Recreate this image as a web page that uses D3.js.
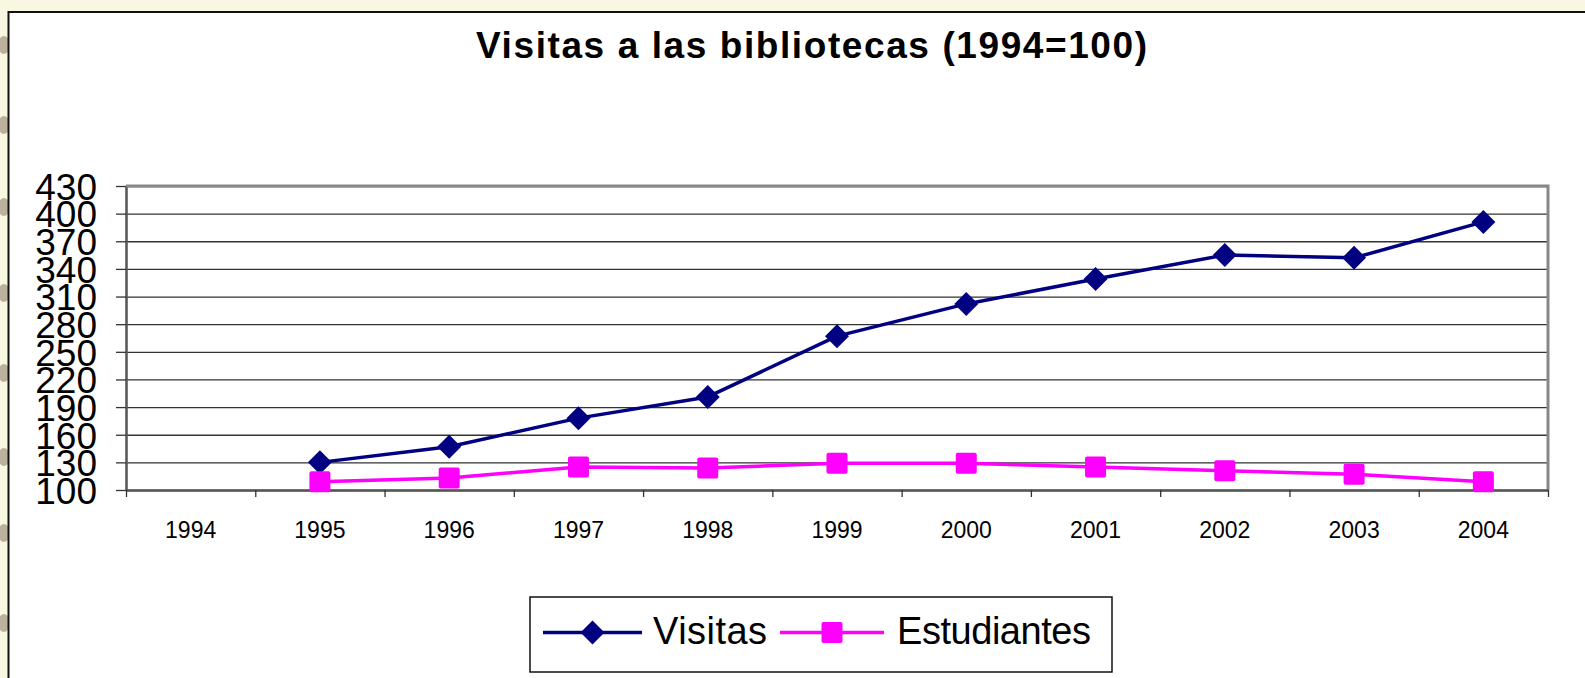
<!DOCTYPE html>
<html>
<head>
<meta charset="utf-8">
<script src="https://cdn.jsdelivr.net/npm/d3@7"></script>
<style>
  html, body { margin: 0; padding: 0; background: #f8f7e1; }
  svg { display: block; }
  text { font-family: "Liberation Sans", Arial, sans-serif; }
</style>
</head>
<body>
<svg id="chart" width="1585" height="678"></svg>
<script>
const years = ["1994","1995","1996","1997","1998","1999","2000","2001","2002","2003","2004"];
const visitas = [null, 130, 147, 178, 201, 267, 302, 329, 355, 352, 391];
const estudiantes = [null, 109, 113, 125, 124, 129, 129, 125, 121, 117, 109];
const yTicks = [100,130,160,190,220,250,280,310,340,370,400,430];
const seriesNames = ["Visitas", "Estudiantes"];
const seriesColors = ["#000080", "#ff00ff"];

const svg = d3.select("#chart");

// decorative edge texture
const blobY = [45,125,207,293,373,457,533,623];
svg.selectAll("ellipse.blob").data(blobY).enter().append("ellipse")
  .attr("cx", 4).attr("cy", d => d).attr("rx", 6).attr("ry", 9)
  .attr("fill", "#a89a84").attr("opacity", 0.75);

// white chart area
svg.append("rect").attr("x", 8.5).attr("y", 12).attr("width", 1600).attr("height", 700)
  .attr("fill", "#ffffff").attr("stroke", "#111").attr("stroke-width", 2);

const L = 126, R = 1548, T = 186, B = 490;
const y = d3.scaleLinear().domain([100, 430]).range([B, T]);
const xb = d3.scaleBand().domain(years).range([L, R]).paddingInner(0).paddingOuter(0);
const xc = d => xb(d) + xb.bandwidth() / 2;
const xi = d3.scaleLinear().domain([0, years.length]).range([L, R]);

// title
svg.append("text").attr("x", 811.5).attr("y", 58).attr("text-anchor", "middle")
  .attr("font-size", 37).attr("font-weight", "bold")
  .attr("textLength", 671).attr("lengthAdjust", "spacing")
  .text("Visitas a las bibliotecas (1994=100)");

// gridlines
const grid = svg.append("g").attr("transform", `translate(${L},0)`)
  .call(d3.axisLeft(y).tickValues(yTicks).tickSize(-(R - L)).tickFormat(""));
grid.select(".domain").remove();
grid.selectAll(".tick line").attr("stroke", "#333").attr("stroke-width", 1.3);

// y axis with labels
const yAx = svg.append("g").attr("transform", `translate(${L},0)`)
  .call(d3.axisLeft(y).tickValues(yTicks).tickSize(10).tickPadding(19).tickSizeOuter(0));
yAx.select(".domain").attr("stroke", "#555").attr("stroke-width", 2.5);
yAx.selectAll(".tick line").attr("stroke", "#333").attr("stroke-width", 1.3);
yAx.selectAll(".tick text").attr("font-size", 37).attr("fill", "#000")
  .attr("font-family", "'Liberation Sans', Arial, sans-serif").attr("dy", "0.36em");

// plot frame top/right
svg.append("path").attr("d", `M${L},${T}H${R}V${B}`).attr("fill", "none")
  .attr("stroke", "#888").attr("stroke-width", 3);

// x axis ticks at boundaries
const xTickAx = svg.append("g").attr("transform", `translate(0,${B})`)
  .call(d3.axisBottom(xi).tickValues(d3.range(0, years.length + 1)).tickSize(7).tickFormat("").tickSizeOuter(0));
xTickAx.select(".domain").attr("stroke", "#555").attr("stroke-width", 2.5);
xTickAx.selectAll(".tick line").attr("stroke", "#333").attr("stroke-width", 1.3);

// x labels
const xLab = svg.append("g").attr("transform", `translate(0,${B})`)
  .call(d3.axisBottom(xb).tickSize(0).tickPadding(0));
xLab.select(".domain").remove();
xLab.selectAll(".tick text").attr("font-size", 23).attr("fill", "#000")
  .attr("font-family", "'Liberation Sans', Arial, sans-serif")
  .attr("dy", null).attr("y", 48);

// series
const line = d3.line().defined(d => d.v != null).x(d => xc(d.year)).y(d => y(d.v));
const series = [visitas, estudiantes].map((vals, i) => ({
  name: seriesNames[i], color: seriesColors[i],
  pts: years.map((yr, j) => ({ year: yr, v: vals[j] }))
}));

const diamond = (cx, cy, r) => `M${cx},${cy - r}L${cx + r},${cy}L${cx},${cy + r}L${cx - r},${cy}Z`;

series.forEach((s, i) => {
  svg.append("path").datum(s.pts).attr("d", line).attr("fill", "none")
    .attr("stroke", s.color).attr("stroke-width", 3.5).attr("stroke-linejoin", "round");
  const pts = s.pts.filter(d => d.v != null);
  if (i === 0) {
    svg.selectAll(null).data(pts).enter().append("path")
      .attr("d", d => diamond(xc(d.year), y(d.v), 12)).attr("fill", s.color);
  } else {
    svg.selectAll(null).data(pts).enter().append("rect")
      .attr("x", d => xc(d.year) - 10.5).attr("y", d => y(d.v) - 10.5)
      .attr("width", 21).attr("height", 21).attr("rx", 2).attr("fill", s.color);
  }
});

// legend
svg.append("rect").attr("x", 530).attr("y", 597).attr("width", 582).attr("height", 75)
  .attr("fill", "#fff").attr("stroke", "#111").attr("stroke-width", 1.5);
const legItems = [
  { x1: 543, x2: 642, tx: 653, tw: 114 },
  { x1: 780, x2: 884, tx: 897, tw: 194 }
];
const ly = 632.5;
legItems.forEach((it, i) => {
  const s = series[i];
  svg.append("line").attr("x1", it.x1).attr("x2", it.x2).attr("y1", ly).attr("y2", ly)
    .attr("stroke", s.color).attr("stroke-width", 3.5);
  const cx = (it.x1 + it.x2) / 2;
  if (i === 0) svg.append("path").attr("d", diamond(cx, ly, 12)).attr("fill", s.color);
  else svg.append("rect").attr("x", cx - 10.5).attr("y", ly - 10.5).attr("width", 21).attr("height", 21)
    .attr("rx", 2).attr("fill", s.color);
  svg.append("text").attr("x", it.tx).attr("y", 643.5).attr("font-size", 38)
    .attr("textLength", it.tw).attr("lengthAdjust", "spacing").text(s.name);
});
</script>
</body>
</html>
